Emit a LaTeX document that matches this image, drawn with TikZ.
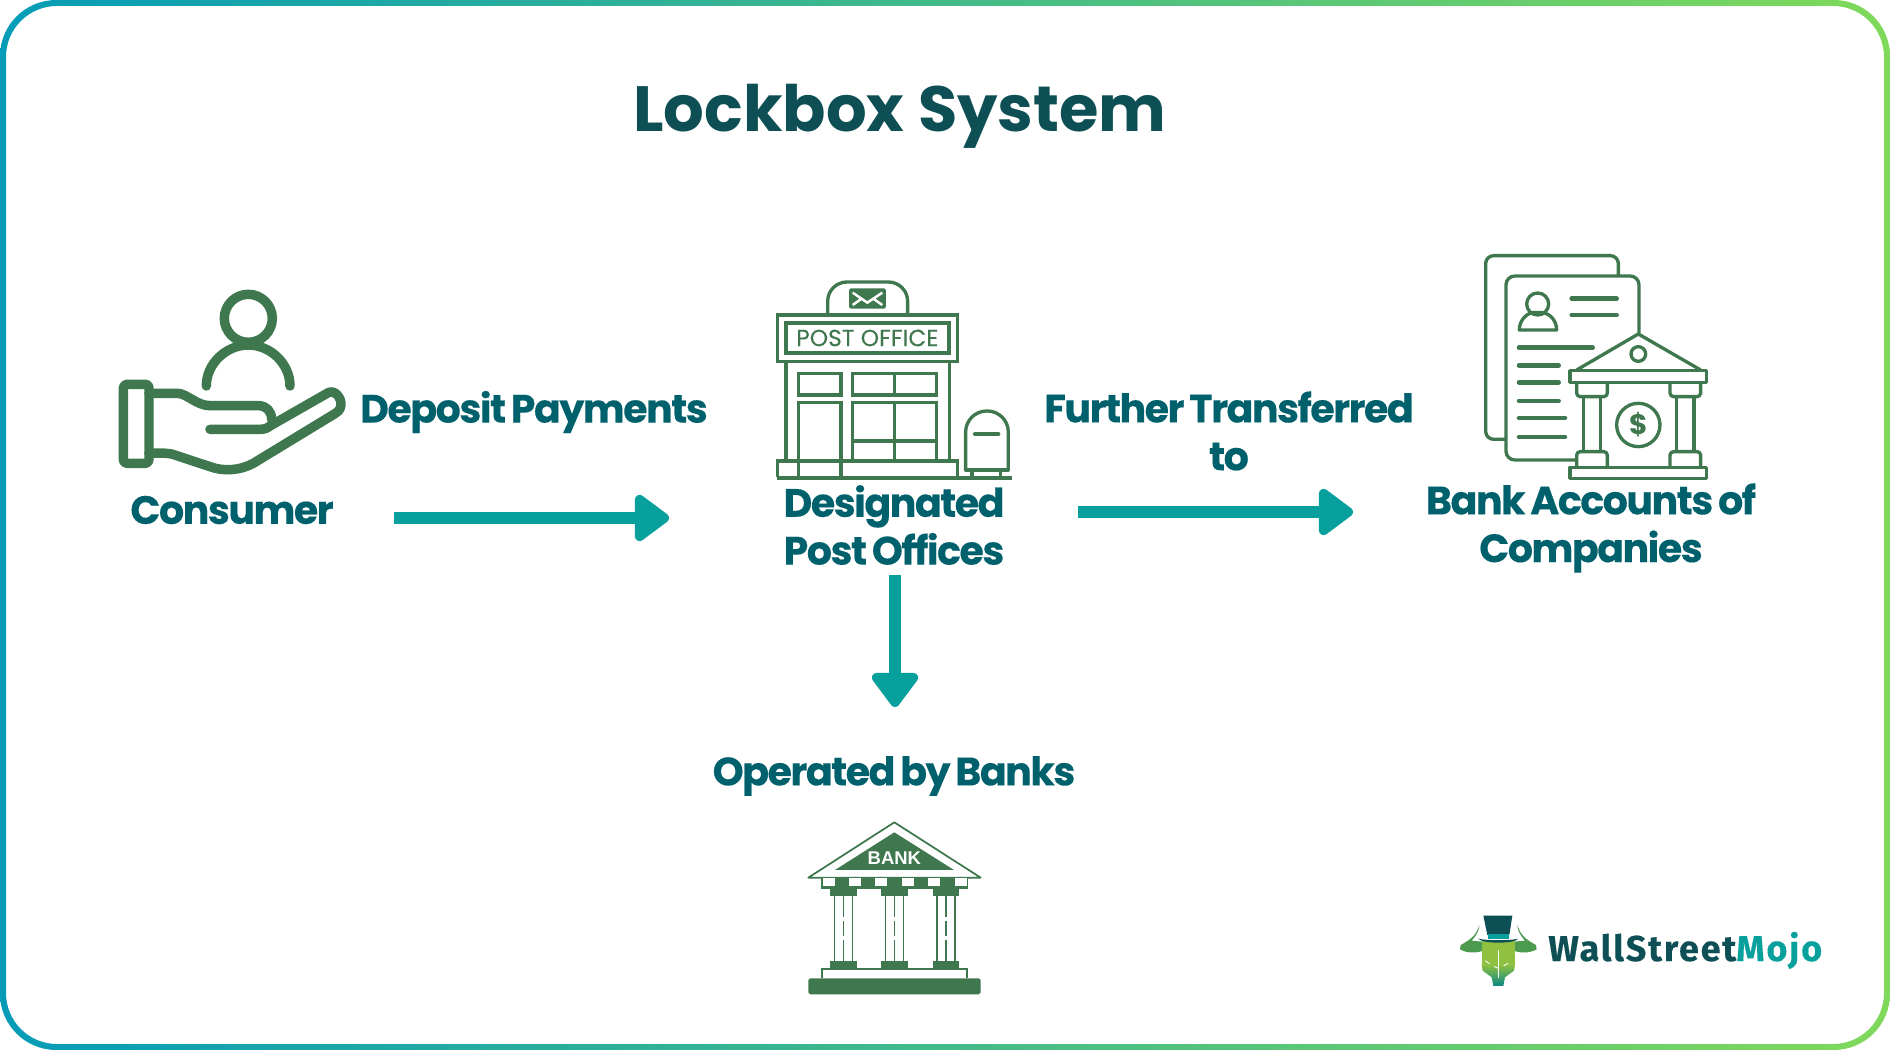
\documentclass[tikz,border=0pt]{standalone}
\usepackage{fontspec}
\usetikzlibrary{arrows.meta}
\setmainfont{Poppins}
\newfontfamily\labelfont{Poppins}[LetterSpace=-3.8,WordSpace=0.7,BoldFeatures={FakeBold=0.25}]
\newfontfamily\logofont{Fira Sans}[LetterSpace=5,BoldFeatures={FakeBold=0.2}]
\newfontfamily\signfont{Poppins}[FakeBold=0.15]
\newfontfamily\bankfont{Liberation Sans}
\definecolor{icongreen}{HTML}{3F784F}
\definecolor{labelteal}{HTML}{00606C}
\definecolor{titledark}{HTML}{0D4F54}
\definecolor{arrowteal}{HTML}{08A09C}
\definecolor{borderleft}{HTML}{069CB8}
\definecolor{borderright}{HTML}{7FD95A}
\definecolor{facelime}{HTML}{8FC040}
\definecolor{hornleaf}{HTML}{4C9A4E}
\tikzset{
  flowlabel/.style={text=labelteal,align=center,font=\labelfont\bfseries\fontsize{22.5}{27.2}\selectfont},
  flowarrow/.style={arrowteal,line width=6.8pt,-{Triangle[length=0.75cm,width=1.06cm,line width=5.5pt,round,fill=arrowteal]}},
  iconthin/.style={icongreen,line width=1.9pt},
  iconbar/.style={icongreen,line width=2.6pt,line cap=round},
}
\begin{document}
\begin{tikzpicture}[x=0.02cm,y=-0.02cm]
\useasboundingbox (0,0) rectangle (1890,1050);

% frame
\shade[left color=borderleft,right color=borderright,even odd rule]
  (0,0) [rounded corners=32pt] rectangle (1890,1050)
  (6,6) [rounded corners=29pt] rectangle (1884,1044);

\node (title) at (900,116) [text=titledark,font=\bfseries\fontsize{36.4}{40}\selectfont] {Lockbox System};

\node (consumer)  at (232,510)  [flowlabel] {Consumer};
\node (deposit)   at (534,412)  [flowlabel] {Deposit Payments};
\node (offices)   at (894,525)  [flowlabel] {Designated\\Post Offices};
\node (further)   at (1229,431) [flowlabel] {Further Transferred\\to};
\node (accounts)  at (1591,528) [flowlabel] {Bank Accounts of\\Companies};
\node (operated)  at (894,776)  [flowlabel] {Operated by Banks};

\coordinate (depositA) at (394,518);
\coordinate (depositB) at (669,518);
\coordinate (furtherA) at (1078,512);
\coordinate (furtherB) at (1353,512);
\coordinate (operatedA) at (895,575);
\coordinate (operatedB) at (895,707);
\draw[flowarrow] (depositA) -- (depositB);
\draw[flowarrow] (furtherA) -- (furtherB);
\draw[flowarrow] (operatedA) -- (operatedB);

% hand with person
\begin{scope}[shift={(90,260)},scale=0.3333,icongreen,line width=5.4pt,line cap=round,line join=round]
  \draw (475,175) circle[radius=72];
  \draw (349,378) .. controls (349,310) and (410,255) .. (475,255) .. controls (540,255) and (600,310) .. (600,378);
  \draw[rounded corners=2pt] (100,373) rectangle (177,610);
  \draw (177,400) -- (262,400) .. controls (290,400) and (320,437) .. (360,437) -- (505,437)
    .. controls (530,437) and (545,455) .. (545,478);
  \draw (360,508) -- (510,508) .. controls (525,508) and (530,505) .. (540,498) -- (715,398)
    .. controls (735,388) and (755,415) .. (753,435) .. controls (752,452) and (740,458) .. (725,467)
    -- (490,610) .. controls (450,632) and (400,635) .. (360,620) -- (245,582) .. controls (225,578) and (200,580) .. (177,580);
\end{scope}

% post office
\begin{scope}[shift={(760,260)},scale=0.3333,iconthin]
  \draw[rounded corners=11pt] (203,160) -- (203,66) -- (443,66) -- (443,160);
  \fill[icongreen,rounded corners=1pt] (267,85) rectangle (378,146);
  \draw[white,line width=1.4pt] (278,98) -- (322,128) -- (367,98) (278,135) -- (305,116) (367,135) -- (340,116);
  \draw (53,165) rectangle (593,304);
  \draw[line width=2.4pt] (78,190) rectangle (567,279);
  \node (postsign) at (322,234) [text=icongreen,font=\signfont\fontsize{13.3}{15}\selectfont] {POST OFFICE};
  \draw (78,304) -- (78,600) (568,304) -- (568,600);
  \draw (115,340) rectangle (243,405);
  \draw (278,340) rectangle (530,405) (404,340) -- (404,405);
  \draw (115,650) -- (115,428) -- (243,428) -- (243,650);
  \draw (278,428) rectangle (530,603) (404,428) -- (404,603) (278,543) -- (530,543);
  \draw (53,650) -- (53,603) -- (593,603) -- (593,650);
  \draw[line width=2.3pt] (50,653) -- (757,653);
  \draw[rounded corners=12pt] (617,630) -- (617,453) -- (745,453) -- (745,630);
  \draw[line cap=round] (617,630) -- (745,630);
  \draw[line width=2.4pt,line cap=round] (645,522) -- (715,522);
  \foreach\x in {636,722}
    \draw (\x,630) -- (\x,650);
\end{scope}

% documents and bank
\begin{scope}[shift={(1460,240)},scale=0.3333,iconthin,line join=round]
  \draw[rounded corners=4.5pt] (135,598) -- (77,598) -- (77,47) -- (475,47) -- (475,105);
  \draw[rounded corners=5pt] (345,660) -- (138,660) -- (138,108) -- (537,108) -- (537,280);
  \draw (233,192) circle[radius=33];
  \draw (178,270) .. controls (178,240) and (200,222) .. (215,218) -- (251,218) .. controls (268,222) and (290,240) .. (290,270) -- cycle;
  \foreach\y/\a/\b in {176/335/470,225/335/470,323/177/398,376/177/296,427/177/296,483/177/296,534/177/315,591/177/315}
    \draw[iconbar] (\a,\y) -- (\b,\y);
  \draw (350,390) -- (535,282) -- (722,390);
  \draw (535,342) circle[radius=22];
  \draw (330,392) rectangle (740,427);
  \draw (330,682) rectangle (740,715);
  \foreach\x in {350,630}
  {
    \draw[rounded corners=2pt] (\x,427) -- (\x,470) -- (\x+92,470) -- (\x+92,427);
    \draw[rounded corners=2pt] (\x,680) -- (\x,635) -- (\x+92,635) -- (\x+92,680);
    \draw (\x+20,470) -- (\x+20,635) (\x+72,470) -- (\x+72,635);
  }
  \draw (535,555) circle[radius=65];
  \node (dollar) at (535,553) [text=icongreen,font=\bfseries\fontsize{16}{18}\selectfont] {\$};
\end{scope}

% bank
\begin{scope}[shift={(790,810)},scale=0.3333,icongreen,line width=1pt]
  \draw[line join=round] (55,203) -- (313,37) -- (572,203) -- cycle;
  \fill (135,180) -- (313,67) -- (492,180) -- cycle;
  \node (banksign) at (313,144) [text=white,font=\bankfont\bfseries\fontsize{10.5}{12}\selectfont] {BANK};
  \fill (93,205) rectangle (535,237);
  \foreach\x in {98,177,256,336,415,494}
    \fill[white] (\x,205) rectangle (\x+36,229);
  \foreach\x in {160,314,468}
  {
    \fill (\x-40,237) rectangle (\x+40,257);
    \fill (\x-40,452) rectangle (\x+40,473);
    \draw[line width=0.7pt] (\x-27,257) -- (\x-27,452) (\x+27,257) -- (\x+27,452);
    \draw[line width=0.7pt] (\x,257) -- (\x,320) (\x,332) -- (\x,378) (\x,390) -- (\x,452);
  }
  \draw[line width=1.1pt] (95,505) -- (95,477) -- (532,477) -- (532,505);
  \fill[rounded corners=1pt] (55,505) rectangle (572,553);
\end{scope}

% logo
\begin{scope}[shift={(1440,900)},scale=0.3333]
  \fill[hornleaf] (118,75) .. controls (110,100) and (100,115) .. (62,135) -- (60,148) .. controls (80,160) and (110,160) .. (128,152) -- (128,125) -- (95,122) .. controls (110,105) and (118,90) .. (118,75) -- cycle;
  \fill[hornleaf] (232,75) .. controls (240,100) and (250,115) .. (288,135) -- (290,148) .. controls (270,160) and (240,160) .. (222,152) -- (222,125) -- (255,122) .. controls (240,105) and (232,90) .. (232,75) -- cycle;
  \fill[facelime] (125,122) rectangle (225,195);
  \shade[top color=facelime,bottom color=arrowteal!70!titledark]
    (125,194) -- (225,194) -- (222,212) -- (195,232) -- (190,258) -- (160,258) -- (155,232) -- (128,212) -- cycle;
  \draw[white,line width=0.5pt,dashed] (136,182) .. controls (150,195) and (165,200) .. (175,205) .. controls (185,200) and (200,195) .. (214,182);
  \draw[white,line width=0.3pt] (175,150) -- (175,235);
  \fill[titledark] (130,47) -- (217,47) -- (208,105) -- (142,105) -- cycle;
  \fill[arrowteal] (143,103) rectangle (207,118);
  \fill[titledark] (115,116) .. controls (135,122) and (215,122) .. (235,116) .. controls (225,132) and (125,132) .. (115,116) -- cycle;
\end{scope}
\node (wallstreet) at (1548,961) [anchor=base west,inner sep=0pt,font=\logofont\bfseries\fontsize{20.5}{24}\selectfont] {\textcolor{titledark}{WallStreet}\textcolor{arrowteal}{Mojo}};
\end{tikzpicture}
\end{document}
